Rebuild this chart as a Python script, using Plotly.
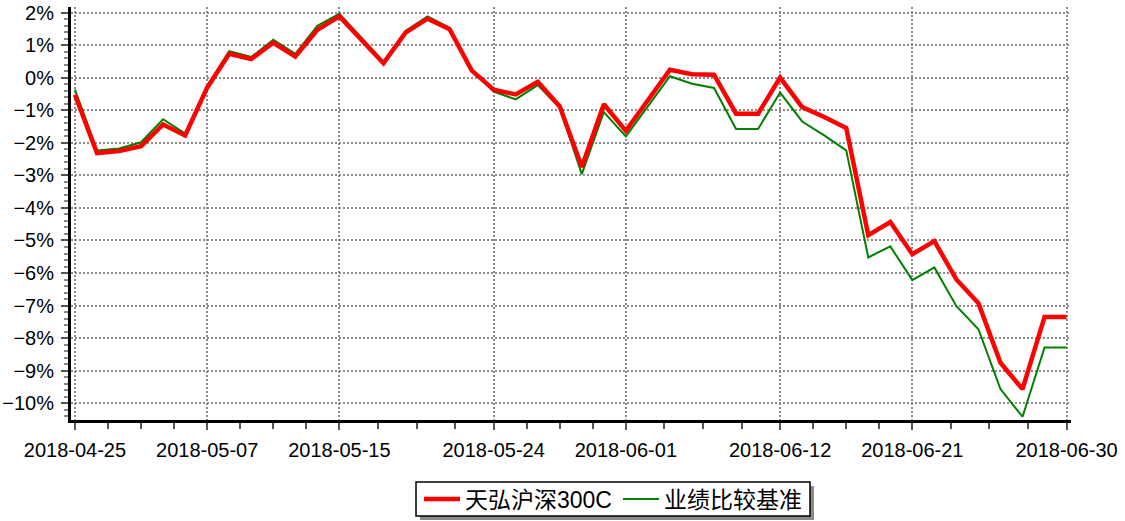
import plotly.graph_objects as go

dates = [
    "2018-04-25", "2018-04-26", "2018-04-27", "2018-05-02", "2018-05-03", "2018-05-04",
    "2018-05-07", "2018-05-08", "2018-05-09", "2018-05-10", "2018-05-11", "2018-05-14",
    "2018-05-15", "2018-05-16", "2018-05-17", "2018-05-18", "2018-05-21", "2018-05-22",
    "2018-05-23", "2018-05-24", "2018-05-25", "2018-05-28", "2018-05-29", "2018-05-30",
    "2018-05-31", "2018-06-01", "2018-06-04", "2018-06-05", "2018-06-06", "2018-06-07",
    "2018-06-08", "2018-06-11", "2018-06-12", "2018-06-13", "2018-06-14", "2018-06-15",
    "2018-06-19", "2018-06-20", "2018-06-21", "2018-06-22", "2018-06-25", "2018-06-26",
    "2018-06-27", "2018-06-28", "2018-06-29", "2018-06-30",
]

fund = [
    -0.52, -2.31, -2.25, -2.10, -1.43, -1.77,
    -0.30, 0.74, 0.58, 1.08, 0.66, 1.48,
    1.89, 1.17, 0.45, 1.39, 1.82, 1.50,
    0.23, -0.36, -0.51, -0.12, -0.88, -2.74,
    -0.81, -1.63, -0.69, 0.25, 0.11, 0.10,
    -1.10, -1.10, 0.01, -0.90, -1.20, -1.54,
    -4.84, -4.43, -5.42, -5.02, -6.20, -6.93,
    -8.76, -9.57, -7.35, -7.35,
]

benchmark = [
    -0.36, -2.23, -2.17, -1.98, -1.27, -1.71,
    -0.26, 0.82, 0.64, 1.17, 0.74, 1.60,
    1.97, 1.23, 0.50, 1.44, 1.89, 1.54,
    0.26, -0.42, -0.66, -0.22, -0.92, -2.96,
    -1.05, -1.80, -0.88, 0.05, -0.18, -0.31,
    -1.57, -1.57, -0.45, -1.34, -1.77, -2.23,
    -5.52, -5.18, -6.22, -5.83, -7.02, -7.73,
    -9.57, -10.42, -8.29, -8.29,
]

tick_dates = ["2018-04-25", "2018-05-07", "2018-05-15", "2018-05-24",
              "2018-06-01", "2018-06-12", "2018-06-21", "2018-06-30"]

series_names = ["天弘沪深300C", "业绩比较基准"]

x = list(range(len(dates)))
major = [dates.index(d) for d in tick_dates]
minor = []
for a, b in zip(major[:-1], major[1:]):
    for k in range(1, 4):
        minor.append(a + (b - a) * k / 4)

fig = go.Figure()
fig.add_trace(go.Scatter(
    x=x, y=benchmark, name=series_names[1], mode="lines",
    line=dict(color="#008000", width=2), legendrank=2,
    customdata=dates,
))
fig.add_trace(go.Scatter(
    x=x, y=fund, name=series_names[0], mode="lines",
    line=dict(color="#FF0000", width=4.5), legendrank=1,
    customdata=dates,
))

L, R, T, B = 71, 54, 7, 101
W, H = 1125, 521
pw = W - L - R
ph = H - T - B

def px_x(p):
    return (p - L) / pw

def px_y(p):
    return (H - B - p) / ph

# legend frame with drop shadow
fig.add_shape(type="rect", xref="paper", yref="paper",
              x0=px_x(420), x1=px_x(814), y0=px_y(486), y1=px_y(520),
              fillcolor="#8a8a8a", line=dict(width=0), layer="above")
fig.add_shape(type="rect", xref="paper", yref="paper",
              x0=px_x(416), x1=px_x(810), y0=px_y(482), y1=px_y(516),
              fillcolor="white", line=dict(color="black", width=1.5), layer="above")

fig.update_layout(
    width=W, height=H,
    margin=dict(l=L, r=R, t=T, b=B, pad=0, autoexpand=False),
    paper_bgcolor="white", plot_bgcolor="white",
    font=dict(family="Liberation Sans, Arial, Noto Sans CJK SC", size=20, color="black"),
    showlegend=True,
    legend=dict(
        orientation="h", x=px_x(419), y=px_y(499), xanchor="left", yanchor="middle",
        bgcolor="rgba(0,0,0,0)", borderwidth=0,
        font=dict(size=23, family="Liberation Sans, Noto Sans CJK SC", color="black"),
        itemwidth=36, entrywidth=148,
    ),
    xaxis=dict(
        range=[-0.18, 45.2], tickmode="array", tickvals=major, ticktext=tick_dates,
        showline=True, linecolor="black", linewidth=3,
        ticks="outside", ticklen=7, tickwidth=1.5, tickcolor="#555",
        showgrid=True, gridcolor="#8c8c8c", gridwidth=1.5, griddash="2px,2px",
        zeroline=False, ticklabelstandoff=3, automargin=False,
        minor=dict(tickmode="array", tickvals=minor, ticks="outside", ticklen=6,
                   tickwidth=1.5, tickcolor="#555", showgrid=False),
        tickfont=dict(size=20),
    ),
    yaxis=dict(
        range=[-10.52, 2.18], tickmode="linear", tick0=0, dtick=1, ticksuffix="%",
        showline=True, linecolor="black", linewidth=3,
        ticks="outside", ticklen=7, tickwidth=1.5, tickcolor="#555",
        showgrid=True, gridcolor="#8c8c8c", gridwidth=1.5, griddash="2px,2px",
        zeroline=False, ticklabelstandoff=3, automargin=False,
        minor=dict(tick0=0, dtick=0.2, ticks="outside", ticklen=4,
                   tickwidth=1.5, tickcolor="#888", showgrid=False),
        tickfont=dict(size=20),
    ),
)

fig.write_html("out.html", config={"displayModeBar": False},
               post_script="document.body.style.margin='0';document.body.style.padding='0';")
